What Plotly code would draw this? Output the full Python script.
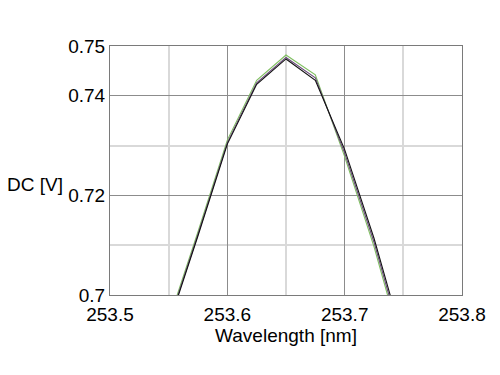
import plotly.graph_objects as go

wavelength = [253.55, 253.575, 253.6, 253.625, 253.65, 253.675, 253.7, 253.725, 253.75]
dc_green = [0.6948, 0.7127, 0.7311, 0.7431, 0.7482, 0.7442, 0.7278, 0.7097, 0.6887]
dc_purple = [0.6943, 0.7122, 0.7306, 0.7426, 0.7477, 0.7436, 0.7285, 0.7106, 0.6897]
dc_black = [0.6940, 0.7119, 0.7303, 0.7423, 0.7474, 0.7431, 0.7292, 0.7114, 0.6907]

x_ticks = [253.5, 253.6, 253.7, 253.8]
x_tick_text = ["253.5", "253.6", "253.7", "253.8"]
y_ticks = [0.7, 0.72, 0.74, 0.75]
y_tick_text = ["0.7", "0.72", "0.74", "0.75"]
x_minor = [253.55, 253.65, 253.75]
y_minor = [0.71, 0.73]

fig = go.Figure()
fig.add_trace(go.Scatter(x=wavelength, y=dc_green, mode="lines",
                         line=dict(color="#7fbf60", width=1.1), showlegend=False))
fig.add_trace(go.Scatter(x=wavelength, y=dc_purple, mode="lines",
                         line=dict(color="#6a4a7a", width=1.1), showlegend=False))
fig.add_trace(go.Scatter(x=wavelength, y=dc_black, mode="lines",
                         line=dict(color="#111111", width=1.1), showlegend=False))

font = dict(family="Liberation Sans, Arial, sans-serif", color="#000000")

fig.update_layout(
    width=500, height=375,
    margin=dict(l=102, r=46, t=38, b=88),
    paper_bgcolor="white", plot_bgcolor="white",
    font=dict(**font, size=19),
    xaxis=dict(range=[253.5, 253.8], tickvals=x_ticks, ticktext=x_tick_text,
               showgrid=True, gridcolor="#8c8c8c", gridwidth=1,
               showline=True, linecolor="#7a7a7a", linewidth=1, mirror=True,
               ticks="", zeroline=False, ticklabelstandoff=2,
               minor=dict(tickvals=x_minor, showgrid=True, gridcolor="#d9d9d9", gridwidth=1.5),
               title=dict(text="Wavelength [nm]", font=dict(size=19), standoff=2),
               tickfont=dict(size=19)),
    yaxis=dict(range=[0.7, 0.75], tickvals=y_ticks, ticktext=y_tick_text,
               showgrid=True, gridcolor="#8c8c8c", gridwidth=1,
               showline=True, linecolor="#7a7a7a", linewidth=1, mirror=True,
               ticks="", zeroline=False,
               minor=dict(tickvals=y_minor, showgrid=True, gridcolor="#d9d9d9", gridwidth=1.5),
               tickfont=dict(size=19)),
    annotations=[dict(text="DC [V]", xref="paper", yref="paper",
                      x=(35 - 110) / 352, y=(295 - 184) / 249,
                      xanchor="center", yanchor="middle", showarrow=False,
                      font=dict(size=19))],
)

fig.write_html("out.html")
